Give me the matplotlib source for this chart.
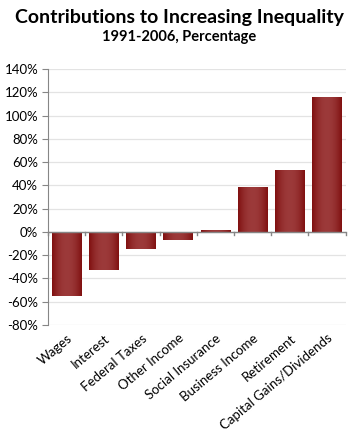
import matplotlib
matplotlib.use("Agg")
import matplotlib.pyplot as plt
import numpy as np
from matplotlib.ticker import FuncFormatter

categories = ["Wages", "Interest", "Federal Taxes", "Other Income", "Social Insurance",
              "Business Income", "Retirement", "Capital Gains/Dividends"]
values = [-55, -33, -15, -7, 2, 39, 53, 116]
yticks = list(range(-80, 141, 20))

plt.rcParams['font.family'] = ['Lato', 'DejaVu Sans']

fig = plt.figure(figsize=(3.59, 4.33), dpi=100)
ax = fig.add_axes([48/359, (433-325)/433, (345.7-48)/359, (325-69)/433])

x = np.arange(len(categories))
bars = ax.bar(x, values, width=0.8, color="#8c1d1d", zorder=3)

# gradient fill for each bar
nx = 64
prof = np.linspace(-1, 1, nx)
g = 1 - prof**2
c_edge = np.array([0x80, 0x10, 0x10]) / 255
c_mid = np.array([0x9c, 0x3a, 0x3a]) / 255
img = c_edge[None, None, :] + (c_mid - c_edge)[None, None, :] * g[None, :, None]
img = np.repeat(img, 2, axis=0)
for b in bars:
    x0, y0 = b.get_x(), b.get_y()
    w, h = b.get_width(), b.get_height()
    im = ax.imshow(img, extent=[x0, x0 + w, y0, y0 + h], aspect="auto", zorder=4,
                   interpolation="bilinear")
    im.set_clip_path(b)

ax.set_xlim(-0.5, len(categories) - 0.5)
ax.set_ylim(-80, 140)
ax.set_yticks(yticks)
ax.yaxis.set_major_formatter(FuncFormatter(lambda v, p: f"{int(v)}%"))
ax.grid(axis="y", color="#e3e3e3", linewidth=0.9, zorder=0)
ax.set_axisbelow(True)

for s in ["top", "right", "bottom"]:
    ax.spines[s].set_visible(False)
ax.spines["left"].set_color("#868686")
ax.tick_params(axis="y", length=4, color="#868686", labelsize=9.5, pad=3)

ax.axhline(0, color="#868686", linewidth=1, zorder=5)
for b in np.arange(-0.5, len(categories), 1.0):
    ax.plot([b, b], [0, -2.5], color="#868686", linewidth=1, zorder=5, clip_on=False)

ax.set_xticks(x)
ax.set_xticklabels(categories, rotation=40, ha="right", rotation_mode="anchor", fontsize=9.5)
ax.tick_params(axis="x", length=0, pad=5)
for lbl in ax.get_xticklabels():
    lbl.set_x(lbl.get_position()[0])

fig.text(0.5, 1 - 17/433, "Contributions to Increasing Inequality", ha="center", va="center",
         fontsize=14, fontweight="bold")
fig.text(0.5, 1 - 37/433, "1991-2006, Percentage", ha="center", va="center",
         fontsize=10.5, fontweight="bold")

fig.savefig("out.png", dpi=100)
